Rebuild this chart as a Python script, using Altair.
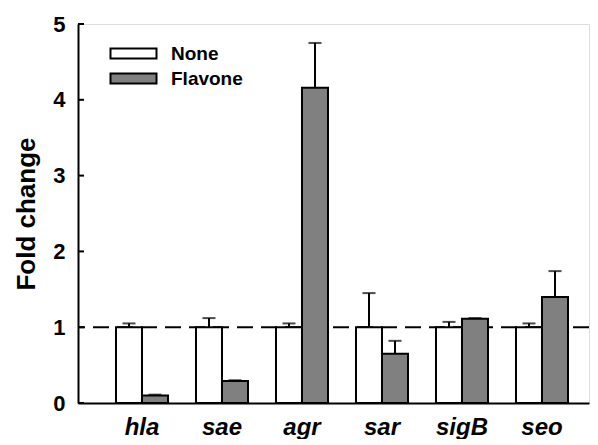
import altair as alt
import pandas as pd

genes = ["hla", "sae", "agr", "sar", "sigB", "seo"]
groups = ["None", "Flavone"]
none_vals = [1.0, 1.0, 1.0, 1.0, 1.0, 1.0]
none_err = [0.05, 0.12, 0.05, 0.45, 0.07, 0.05]
flav_vals = [0.10, 0.29, 4.16, 0.65, 1.11, 1.40]
flav_err = [0.01, 0.01, 0.59, 0.17, 0.01, 0.34]
y_ticks = [0, 1, 2, 3, 4, 5]

rows = []
for i, g in enumerate(genes):
    rows.append({"gene": g, "group": "None", "value": none_vals[i], "top": none_vals[i] + none_err[i]})
    rows.append({"gene": g, "group": "Flavone", "value": flav_vals[i], "top": flav_vals[i] + flav_err[i]})
df = pd.DataFrame(rows)

FONT = "Liberation Sans"

xenc = alt.X("gene:N", sort=genes,
             scale=alt.Scale(paddingInner=0.35, paddingOuter=0.36875, align=0.644),
             axis=alt.Axis(title=None, ticks=False, labelAngle=0, labelFont=FONT,
                           labelFontSize=24, labelFontWeight="bold", labelFontStyle="italic",
                           labelColor="black", labelPadding=12, domainColor="black",
                           domainWidth=2, grid=False))
xoff = alt.XOffset("group:N", sort=groups, scale=alt.Scale(paddingInner=0, paddingOuter=0))
yscale = alt.Scale(domain=[0, 5], nice=False)

bars = alt.Chart(df).mark_bar(stroke="black", strokeWidth=2).encode(
    x=xenc,
    xOffset=xoff,
    y=alt.Y("value:Q", scale=yscale,
            axis=alt.Axis(title="Fold change", values=y_ticks, format="d", ticks=False, grid=False,
                          labelFont=FONT, labelFontSize=22, labelFontWeight="bold",
                          labelColor="black", labelPadding=13, domainColor="black",
                          domainWidth=2, titleFont=FONT, titleFontSize=26,
                          titleFontWeight="bold", titleColor="black", titlePadding=13)),
    fill=alt.Fill("group:N", sort=groups,
                  scale=alt.Scale(domain=groups, range=["white", "#808080"]),
                  legend=alt.Legend(title=None, orient="none", legendX=43, legendY=17, padding=0,
                                    symbolType="M-2,-0.44H2V0.44H-2Z", symbolSize=529,
                                    symbolStrokeColor="black", symbolStrokeWidth=2,
                                    labelFont=FONT, labelFontSize=19, labelFontWeight="bold",
                                    labelColor="black", rowPadding=2, labelOffset=25)),
)

err = alt.Chart(df).mark_rule(color="black", strokeWidth=2).encode(
    x=alt.X("gene:N", sort=genes), xOffset=xoff,
    y=alt.Y("value:Q", scale=yscale), y2="top:Q",
)
caps = alt.Chart(df).mark_tick(color="black", thickness=2, size=13, orient="horizontal").encode(
    x=alt.X("gene:N", sort=genes), xOffset=xoff,
    y=alt.Y("top:Q", scale=yscale),
)

ref = alt.Chart(pd.DataFrame({"y": [1]})).mark_rule(
    color="black", strokeWidth=2, strokeDash=[16, 8]).encode(y=alt.Y("y:Q", scale=yscale))

ticks = alt.Chart(pd.DataFrame({"t": y_ticks})).mark_rule(color="black", strokeWidth=2).encode(
    y=alt.Y("t:Q", scale=yscale), x=alt.value(0), x2=alt.value(6))

chart = alt.layer(ref, bars, err, caps, ticks).properties(
    width=511, height=379,
    padding={"left": 5, "top": 5, "right": 0, "bottom": 0},
).configure_view(stroke=None).configure(background="white")

chart.save("out.html", embed_options={"renderer": "svg", "actions": False})
